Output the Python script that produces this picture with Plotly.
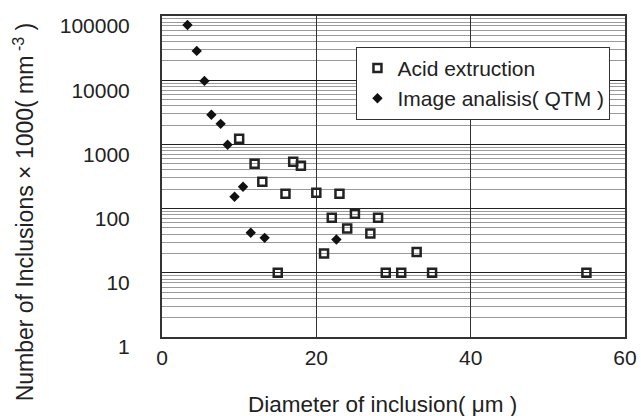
import plotly.graph_objects as go

# Acid extraction measurements (open squares)
acid_diam = [10, 12, 13, 15, 16, 17, 18, 20, 21, 22, 23, 24, 25, 27, 28, 29, 31, 33, 35, 55]
acid_count = [1220, 500, 262, 10, 171, 536, 465, 177, 20, 72, 171, 49, 83, 41, 72, 10, 10, 21, 10, 10]

# Image analysis (QTM) measurements (filled diamonds)
qtm_diam = [3.3, 4.5, 5.5, 6.4, 7.6, 8.5, 9.4, 10.5, 11.5, 13.3, 22.6]
qtm_count = [72400, 28600, 9750, 2890, 2090, 986, 153, 219, 42, 35, 33]

x_ticks = [0, 20, 40, 60]

FONT = "Liberation Sans, Arial, sans-serif"
INK = "#222222"

fig = go.Figure()

fig.add_trace(go.Scatter(
    x=acid_diam, y=acid_count, mode="markers", name="Acid extruction",
    marker=dict(symbol="square-open", size=8, color=INK, line=dict(width=2.5, color=INK)),
))
fig.add_trace(go.Scatter(
    x=qtm_diam, y=qtm_count, mode="markers", name="Image analisis( QTM )",
    marker=dict(symbol="diamond", size=8, color="#111111"),
))

fig.update_layout(
    width=641, height=416,
    margin=dict(l=161.5, r=16, t=16, b=78.5),
    paper_bgcolor="white", plot_bgcolor="white",
    font=dict(family=FONT, color=INK),
    showlegend=True,
    legend=dict(
        x=0.42, y=0.904, xanchor="left", yanchor="top",
        bgcolor="white", bordercolor="#333333", borderwidth=1,
        font=dict(size=21, family=FONT, color=INK),
        itemwidth=30,
    ),
    annotations=[
        dict(text="Number of Inclusions × 1000( mm<sup> -3</sup> )",
             x=-0.299, y=0.39, xref="paper", yref="paper",
             xanchor="center", yanchor="middle", textangle=-90,
             showarrow=False, font=dict(size=23, family=FONT, color=INK)),
        dict(text="Diameter of inclusion( μm )",
             x=0.476, y=-0.21, xref="paper", yref="paper",
             xanchor="center", yanchor="middle",
             showarrow=False, font=dict(size=22.5, family=FONT, color=INK)),
    ],
)

fig.update_xaxes(
    range=[0, 60], tickvals=x_ticks, ticks="", automargin=False,
    showgrid=True, gridcolor="#333333", gridwidth=1,
    showline=True, linecolor="#333333", linewidth=2, mirror=True,
    zeroline=False, tickfont=dict(size=21, family=FONT, color=INK),
    ticklabelstandoff=1,
)
fig.update_yaxes(
    type="log", range=[0, 5], dtick=1, tickformat="d",
    ticks="", automargin=False,
    showgrid=True, gridcolor="#222222", gridwidth=1,
    minor=dict(dtick="D1", showgrid=True, gridcolor="#9a9a9a", gridwidth=1, ticks=""),
    showline=True, linecolor="#333333", linewidth=2, mirror=True,
    zeroline=False, tickfont=dict(size=21, family=FONT, color=INK),
    ticklabelstandoff=26, ticklabelshift=10,
)

fig.write_html("out.html")
